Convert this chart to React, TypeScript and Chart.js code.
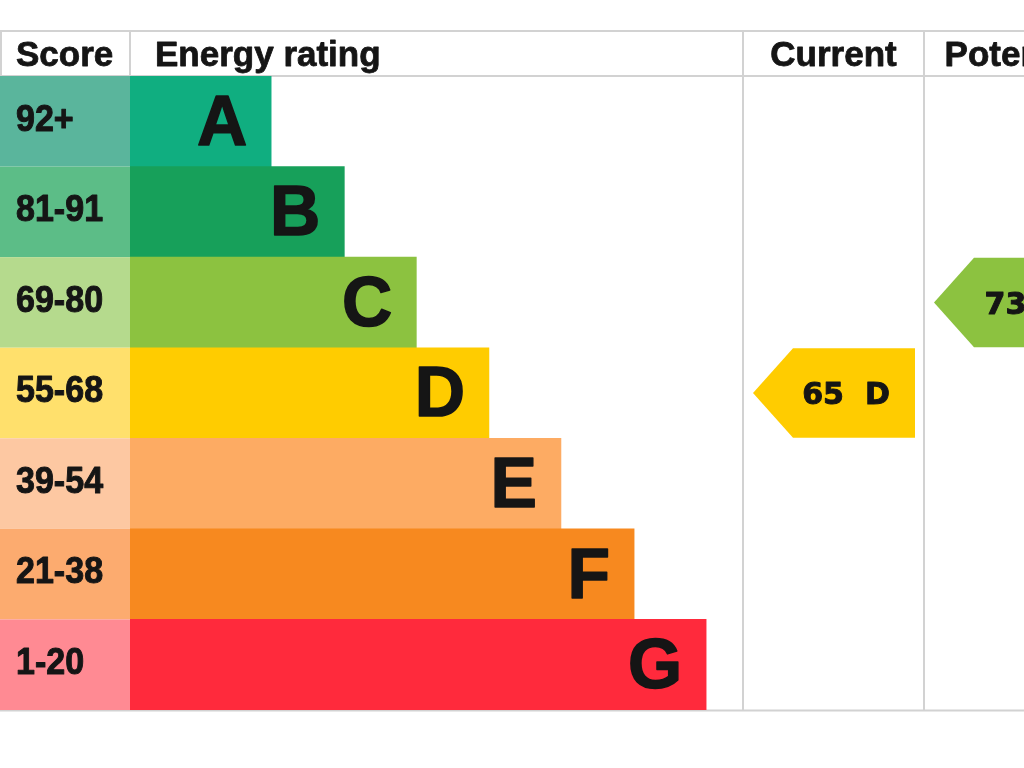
import React, { useEffect, useRef } from "react";
import { Chart, registerables } from "chart.js";

Chart.register(...registerables);

// ---- data ----
const ratings = ["A", "B", "C", "D", "E", "F", "G"];
const scoreLabels = ["92+", "81-91", "69-80", "55-68", "39-54", "21-38", "1-20"];
const scoreMins = [92, 81, 69, 55, 39, 21, 1];
const barLengths = [24.5, 37.2, 49.7, 62.3, 74.8, 87.5, 100];
const barColors = ["#10ae80", "#17a05a", "#8cc240", "#ffcc00", "#fdab63", "#f7891f", "#ff2a3c"];
const scoreColors = ["#5ab59c", "#5cbd87", "#b5da8d", "#ffe06c", "#fdc8a2", "#fcab6f", "#ff8a93"];
const headers = ["Score", "Energy rating", "Current", "Potential"];
const currentScore = 65;
const potentialScore = 73;

const LINE = "#d2d2d2";
const INK = "#151515";
const SANS = '"Liberation Sans", Arial, sans-serif';
const WIDE = '"DejaVu Sans", Verdana, sans-serif';

function bandOf(score: number) {
  for (let i = 0; i < scoreMins.length; i++) if (score >= scoreMins[i]) return i;
  return scoreMins.length - 1;
}

function drawText(
  ctx: CanvasRenderingContext2D,
  text: string,
  x: number,
  cy: number,
  size: number,
  family: string,
  align: CanvasTextAlign,
  capRatio: number,
  sx = 1,
  weight = 1
) {
  ctx.save();
  ctx.font = `bold ${size}px ${family}`;
  ctx.textBaseline = "alphabetic";
  ctx.textAlign = align;
  ctx.fillStyle = INK;
  ctx.strokeStyle = INK;
  ctx.lineWidth = weight;
  ctx.lineJoin = "round";
  ctx.translate(x, cy + (capRatio * size) / 2);
  ctx.scale(sx, 1);
  ctx.fillText(text, 0, 0);
  if (weight > 0) ctx.strokeText(text, 0, 0);
  ctx.restore();
}

const epcPlugin = {
  id: "epc",
  beforeDatasetsDraw(chart: any) {
    const { ctx, chartArea: ca, scales } = chart;
    const y = scales.y;
    const n = ratings.length;
    const bandH = (ca.bottom - ca.top) / n;
    const W = chart.width;
    const headTop = 31;
    const curLeft = 743;
    const potLeft = 924;
    ctx.save();
    // grid lines
    ctx.strokeStyle = LINE;
    ctx.lineWidth = 2;
    ctx.beginPath();
    ctx.moveTo(0, headTop);
    ctx.lineTo(W, headTop);
    ctx.moveTo(0, ca.top);
    ctx.lineTo(W, ca.top);
    ctx.moveTo(0, ca.bottom + 0.5);
    ctx.lineTo(W, ca.bottom + 0.5);
    ctx.moveTo(1, headTop);
    ctx.lineTo(1, ca.top);
    ctx.moveTo(ca.left, headTop);
    ctx.lineTo(ca.left, ca.top);
    ctx.moveTo(curLeft, headTop);
    ctx.lineTo(curLeft, ca.bottom);
    ctx.moveTo(potLeft, headTop);
    ctx.lineTo(potLeft, ca.bottom);
    ctx.stroke();

    // score column
    for (let i = 0; i < n; i++) {
      const c = y.getPixelForValue(i);
      const top = c - bandH / 2;
      ctx.fillStyle = scoreColors[i];
      ctx.fillRect(0, top, ca.left, bandH);
      drawText(ctx, scoreLabels[i], 16, c - 4, 37, SANS, "left", 0.716, 0.92, 1);
    }

    // headers
    const hc = (headTop + ca.top) / 2;
    drawText(ctx, headers[0], 16, hc, 35, SANS, "left", 0.716, 1, 0.8);
    drawText(ctx, headers[1], 155, hc, 35, SANS, "left", 0.716, 1, 0.8);
    drawText(ctx, headers[2], (curLeft + potLeft) / 2, hc, 35, SANS, "center", 0.716, 1, 0.8);
    drawText(ctx, headers[3], potLeft + (potLeft - curLeft) / 2 + 4, hc, 35, SANS, "center", 0.716, 1, 0.8);
    ctx.restore();
  },
  afterDatasetsDraw(chart: any) {
    const { ctx, chartArea: ca, scales } = chart;
    const y = scales.y;
    const n = ratings.length;
    const bandH = (ca.bottom - ca.top) / n;
    const meta = chart.getDatasetMeta(0);
    ctx.save();
    // letters
    meta.data.forEach((bar: any, i: number) => {
      drawText(ctx, ratings[i], bar.x - 24, bar.y - 2, 71, SANS, "right", 0.716, 0.98, 1.5);
    });

    // arrows
    const drawArrow = (score: number, tipX: number, rightX: number) => {
      const b = bandOf(score);
      const c = y.getPixelForValue(b);
      const top = c - bandH / 2 + 0.5;
      const bot = c + bandH / 2 - 0.5;
      const notch = 40;
      ctx.fillStyle = barColors[b];
      ctx.beginPath();
      ctx.moveTo(tipX, c);
      ctx.lineTo(tipX + notch, top);
      ctx.lineTo(rightX, top);
      ctx.lineTo(rightX, bot);
      ctx.lineTo(tipX + notch, bot);
      ctx.closePath();
      ctx.fill();
      drawText(ctx, `${score}  ${ratings[b]}`, tipX + 93, c, 31, WIDE, "center", 0.729, 0.97, 1);
    };
    drawArrow(currentScore, 753, 915);
    drawArrow(potentialScore, 934, 1096);
    ctx.restore();
  },
};

export default function App() {
  const ref = useRef<HTMLCanvasElement | null>(null);
  useEffect(() => {
    if (!ref.current) return;
    const chart = new Chart(ref.current, {
      type: "bar",
      data: {
        labels: ratings,
        datasets: [
          {
            data: barLengths,
            backgroundColor: barColors,
            borderWidth: 0,
            barPercentage: 1,
            categoryPercentage: 1,
          },
        ],
      },
      options: {
        indexAxis: "y",
        responsive: false,
        maintainAspectRatio: false,
        devicePixelRatio: 1,
        animation: false,
        layout: { padding: { left: 130, right: 281, top: 76, bottom: 58 } },
        scales: {
          x: { display: false, min: 0, max: 106.4 },
          y: { display: false },
        },
        plugins: { legend: { display: false }, tooltip: { enabled: false } },
      },
      plugins: [epcPlugin],
    });
    return () => chart.destroy();
  }, []);
  return (
    <div style={{ position: "absolute", left: 0, top: 0, width: 1024, height: 768, background: "#fff" }}>
      <canvas ref={ref} width={1024} height={768} style={{ display: "block" }} />
    </div>
  );
}
